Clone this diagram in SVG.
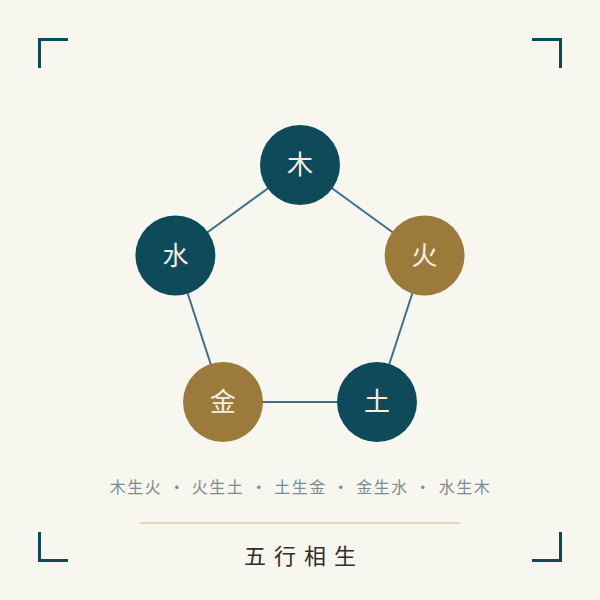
<svg xmlns="http://www.w3.org/2000/svg" width="600" height="600" viewBox="0 0 600 600">
<style>
.corner{fill:none;stroke:#0f4a5a;stroke-width:3}
.edge{stroke:#3e7189;stroke-width:2;fill:none}
.teal{fill:#0f4a5a}
.gold{fill:#9b7a3b}
.lbl{font-family:"Noto Sans CJK SC","Noto Sans CJK JP",sans-serif;font-size:26px;fill:#f5efe2;text-anchor:middle}
.leg{font-family:"Noto Sans CJK SC","Noto Sans CJK JP",sans-serif;font-size:16px;fill:#7d8c92;text-anchor:middle;letter-spacing:1.5px}
.title{font-family:"Noto Sans CJK SC","Noto Sans CJK JP",sans-serif;font-size:22px;fill:#2e2e2e;text-anchor:middle;letter-spacing:8px}
</style>
<rect width="600" height="600" fill="#f7f6ef"/>
<g id="corners">
<path class="corner" d="M39.5,68 V39.5 H68"/>
<path class="corner" d="M532,39.5 H560.5 V68"/>
<path class="corner" d="M39.5,532 V560.5 H68"/>
<path class="corner" d="M532,560.5 H560.5 V532"/>
</g>
<g id="connectors">
<line class="edge" x1="300" y1="165" x2="424.6" y2="255.5"/>
<line class="edge" x1="424.6" y1="255.5" x2="377" y2="402"/>
<line class="edge" x1="377" y1="402" x2="223" y2="402"/>
<line class="edge" x1="223" y1="402" x2="175.4" y2="255.5"/>
<line class="edge" x1="175.4" y1="255.5" x2="300" y2="165"/>
</g>
<g id="node-wood"><circle class="teal" cx="300" cy="165" r="40"/><text class="lbl" x="300" y="174">木</text></g>
<g id="node-fire"><circle class="gold" cx="424.6" cy="255.5" r="40"/><text class="lbl" x="424.6" y="264.5">火</text></g>
<g id="node-earth"><circle class="teal" cx="377" cy="402" r="40"/><text class="lbl" x="377" y="411">土</text></g>
<g id="node-metal"><circle class="gold" cx="223" cy="402" r="40"/><text class="lbl" x="223" y="411">金</text></g>
<g id="node-water"><circle class="teal" cx="175.4" cy="255.5" r="40"/><text class="lbl" x="175.4" y="264.5">水</text></g>
<g id="legend">
<text class="leg" x="136" y="493">木生火</text>
<text class="leg" x="177.5" y="493">·</text>
<text class="leg" x="218" y="493">火生土</text>
<text class="leg" x="259.5" y="493">·</text>
<text class="leg" x="300.5" y="493">土生金</text>
<text class="leg" x="341.5" y="493">·</text>
<text class="leg" x="382.5" y="493">金生水</text>
<text class="leg" x="423.5" y="493">·</text>
<text class="leg" x="465" y="493">水生木</text>
</g>
<line x1="140" y1="523" x2="460" y2="523" stroke="#dccdaf" stroke-width="1.5"/>
<text class="title" x="304" y="564">五行相生</text>
</svg>
